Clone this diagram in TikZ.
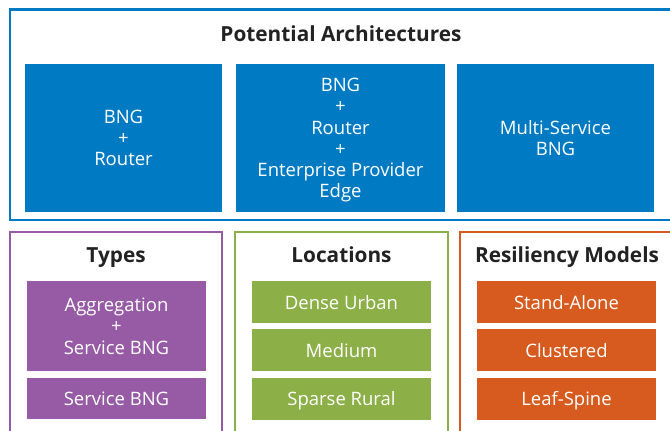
\documentclass[tikz,border=0pt]{standalone}
\usepackage{fontspec}
\setmainfont{Open Sans}
\usepackage{xcolor}
\usepackage{tikz}
\usetikzlibrary{shapes,positioning}
\definecolor{archblue}{RGB}{0,122,195}
\definecolor{typepurple}{RGB}{151,91,165}
\definecolor{locgreen}{RGB}{141,175,71}
\definecolor{resorange}{RGB}{215,91,31}
\definecolor{hdrgray}{RGB}{34,34,34}
\tikzset{
  grp_b/.style = {rectangle, draw, line width=2.5pt, inner sep=0pt},
  hdr_t/.style = {anchor=base, text=hdrgray, font=\fontsize{20.8}{24}\selectfont\bfseries},
  cell_b/.style = {rectangle, inner sep=0pt, align=center, text depth=0pt, text=white, font=\fontsize{18.5}{21.3}\selectfont},
  arch_c/.style = {cell_b, fill=archblue, minimum height=148pt},
  type_c/.style = {cell_b, fill=typepurple, minimum width=179pt},
  loc_c/.style = {cell_b, fill=locgreen, minimum width=179pt, minimum height=42pt},
  res_c/.style = {cell_b, fill=resorange, minimum width=179pt, minimum height=42pt}
}

\begin{document}
\begin{tikzpicture}[x=1pt,y=-1pt]
	\useasboundingbox (0,0) rectangle (670,431);
	\clip (0,0) rectangle (670,431);
	% architectures
	\node[grp_b, draw=archblue, minimum width=662pt, minimum height=210.5pt] (arch) at (341,114.75) {};
	\node[hdr_t] (arch_t) at (341,41.5) {Potential Architectures};
	\node[arch_c, minimum width=197pt] (bng_r) at (123.5,138) {BNG\\+\\Router};
	\node[arch_c, minimum width=209pt] (bng_r_pe) at (340.5,138) {BNG\\+\\Router\\+\\Enterprise Provider\\Edge};
	\node[arch_c, minimum width=197pt] (ms_bng) at (555.5,138) {Multi-Service\\BNG};
	% types
	\node[grp_b, draw=typepurple, minimum width=212pt, minimum height=213pt] (types) at (116,338.5) {};
	\node[hdr_t] (types_t) at (116,262) {Types};
	\node[type_c, minimum height=90pt] (agg_sbng) at (116.5,326) {Aggregation\\+\\Service BNG};
	\node[type_c, minimum height=41pt] (sbng) at (116.5,398.5) {Service BNG};
	% locations
	\node[grp_b, draw=locgreen, minimum width=213pt, minimum height=213pt] (locs) at (341.5,338.5) {};
	\node[hdr_t] (locs_t) at (341.5,262) {Locations};
	\node[loc_c] (dense) at (341.5,302) {Dense Urban};
	\node[loc_c] (medium) at (341.5,350) {Medium};
	\node[loc_c] (sparse) at (341.5,398.5) {Sparse Rural};
	% resiliency
	\node[grp_b, draw=resorange, minimum width=214pt, minimum height=213pt] (resil) at (567,338.5) {};
	\node[hdr_t] (resil_t) at (567,262) {Resiliency Models};
	\node[res_c] (standalone) at (566.5,302) {Stand-Alone};
	\node[res_c] (clustered) at (566.5,350) {Clustered};
	\node[res_c] (leafspine) at (566.5,398.5) {Leaf-Spine};
\end{tikzpicture}
\end{document}
